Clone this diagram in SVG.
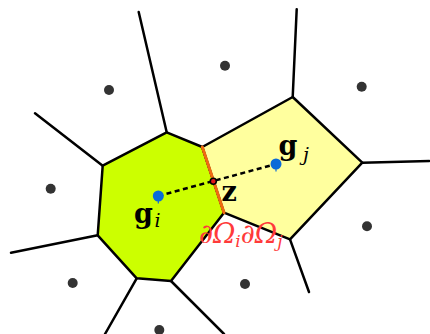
<svg xmlns="http://www.w3.org/2000/svg" width="430" height="334" viewBox="0 0 430 334">
  <style>
    .edge { stroke: #000; stroke-width: 2.5; fill: none; stroke-linejoin: round; stroke-linecap: round; }
    .cell { stroke: #000; stroke-width: 2.5; stroke-linejoin: round; }
    .site { fill: #333; }
    .gen { fill: #0a6ad8; }
    .bold { font-family: "DejaVu Serif", "Liberation Serif", serif; font-weight: bold; fill: #000; }
    .sub { font-family: "DejaVu Serif", "Liberation Serif", serif; font-style: italic; fill: #000; }
    .bnd { font-family: "DejaVu Serif", "Liberation Serif", serif; font-style: italic; fill: #ff3a3a; }
  </style>
  <rect width="430" height="334" fill="#fff"/>

  <!-- unbounded Voronoi edges -->
  <g id="connectors">
    <line class="edge" x1="166.7" y1="132.3" x2="138.7" y2="12"/>
    <line class="edge" x1="102.7" y1="165.7" x2="35" y2="113.3"/>
    <line class="edge" x1="97.7" y1="235.3" x2="11" y2="252.7"/>
    <line class="edge" x1="136.7" y1="278.3" x2="105" y2="334"/>
    <line class="edge" x1="171" y1="281" x2="224" y2="334"/>
    <line class="edge" x1="292.7" y1="97" x2="296.7" y2="9.3"/>
    <line class="edge" x1="362.3" y1="162.7" x2="429.3" y2="161"/>
    <line class="edge" x1="290" y1="239.3" x2="309" y2="292"/>
  </g>

  <!-- cell of g_i -->
  <g id="cell-i">
    <polygon class="cell" fill="#ccff00" points="166.7,132.3 202.3,147 224,212.7 171,281 136.7,278.3 97.7,235.3 102.7,165.7"/>
  </g>

  <!-- cell of g_j -->
  <g id="cell-j">
    <polygon class="cell" fill="#ffff9e" points="202.3,147 292.7,97 362.3,162.7 290,239.3 224,212.7"/>
  </g>

  <!-- shared boundary -->
  <g id="shared-boundary">
    <line x1="202.3" y1="147" x2="224" y2="212.7" stroke="#f06a10" stroke-width="3" stroke-linecap="round"/>
  </g>

  <!-- other sites -->
  <g id="sites">
    <circle class="site" cx="109" cy="90" r="5"/>
    <circle class="site" cx="225" cy="65.7" r="5"/>
    <circle class="site" cx="361.7" cy="86.7" r="5"/>
    <circle class="site" cx="50.7" cy="188.7" r="5"/>
    <circle class="site" cx="367" cy="226.3" r="5"/>
    <circle class="site" cx="72.7" cy="283" r="5"/>
    <circle class="site" cx="245" cy="284" r="5"/>
    <circle class="site" cx="159.3" cy="330" r="5"/>
  </g>

  <!-- segment between generators -->
  <g id="link">
    <line x1="158.3" y1="196" x2="276" y2="164" stroke="#000" stroke-width="2.5" stroke-dasharray="5,3.5"/>
  </g>

  <g id="gen-i">
    <circle class="gen" cx="158.3" cy="196" r="5.5"/>
    <line x1="158.3" y1="196" x2="158.3" y2="203.5" stroke="#0a6ad8" stroke-width="1.2"/>
    <text class="bold" x="134" y="223" font-size="27">g</text>
    <text class="sub" x="154.5" y="226.5" font-size="19">i</text>
  </g>

  <g id="gen-j">
    <circle class="gen" cx="276" cy="164" r="5.5"/>
    <line x1="276" y1="164" x2="276" y2="171.5" stroke="#0a6ad8" stroke-width="1.2"/>
    <text class="bold" x="278.5" y="155" font-size="27">g</text>
    <text class="sub" x="303" y="161" font-size="19">j</text>
  </g>

  <g id="point-z">
    <circle cx="213.3" cy="181.3" r="3" fill="#e01818" stroke="#000" stroke-width="1.5"/>
    <text class="bold" x="221.5" y="200.5" font-size="27">z</text>
  </g>

  <g id="boundary-label">
    <text class="bnd" x="199" y="243" font-size="27">∂Ω<tspan font-size="17" dy="4">i</tspan><tspan dy="-4">∂Ω</tspan><tspan font-size="17" dy="4">j</tspan></text>
  </g>
</svg>
